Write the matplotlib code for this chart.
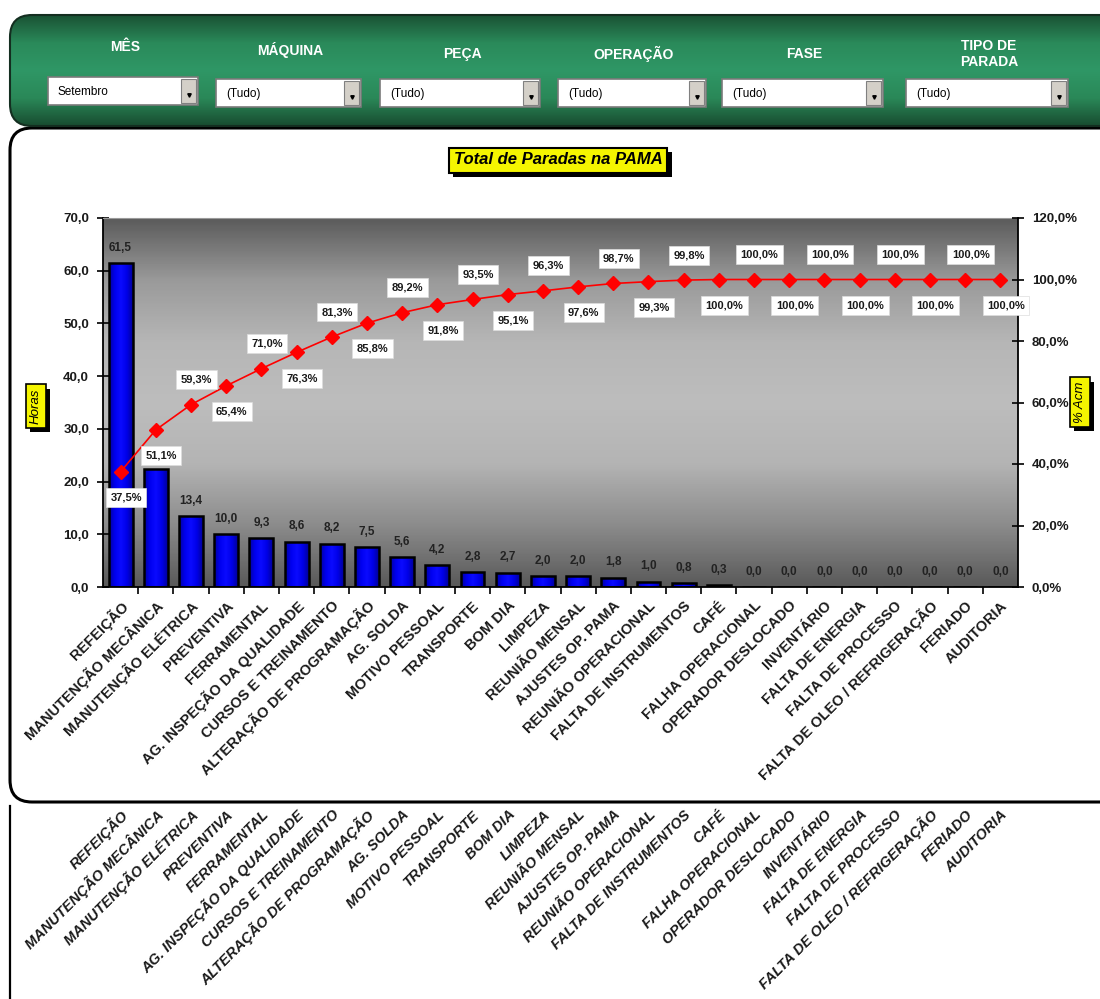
import numpy as np
import matplotlib
matplotlib.use('Agg')
import matplotlib.pyplot as plt
import matplotlib.ticker as mticker
import matplotlib.patheffects as pe
from matplotlib.patches import FancyBboxPatch, Rectangle
from matplotlib.colors import LinearSegmentedColormap
from matplotlib.transforms import ScaledTranslation

plt.rcParams['font.family'] = ['Liberation Sans', 'DejaVu Sans']

W, H = 1100, 999

# dados do pareto
categorias = ['REFEIÇÃO', 'MANUTENÇÃO MECÂNICA', 'MANUTENÇÃO ELÉTRICA', 'PREVENTIVA',
              'FERRAMENTAL', 'AG. INSPEÇÃO DA QUALIDADE', 'CURSOS E TREINAMENTO',
              'ALTERAÇÃO DE PROGRAMAÇÃO', 'AG. SOLDA', 'MOTIVO PESSOAL', 'TRANSPORTE',
              'BOM DIA', 'LIMPEZA', 'REUNIÃO MENSAL', 'AJUSTES OP. PAMA',
              'REUNIÃO OPERACIONAL', 'FALTA DE INSTRUMENTOS', 'CAFÉ', 'FALHA OPERACIONAL',
              'OPERADOR DESLOCADO', 'INVENTÁRIO', 'FALTA DE ENERGIA', 'FALTA DE PROCESSO',
              'FALTA DE OLEO / REFRIGERAÇÃO', 'FERIADO', 'AUDITORIA']
horas = [61.5, 22.3, 13.4, 10.0, 9.3, 8.6, 8.2, 7.5, 5.6, 4.2, 2.8, 2.7, 2.0,
         2.0, 1.8, 1.0, 0.8, 0.3, 0.0, 0.0, 0.0, 0.0, 0.0, 0.0, 0.0, 0.0]
pct_acum = [37.5, 51.1, 59.3, 65.4, 71.0, 76.3, 81.3, 85.8, 89.2, 91.8, 93.5, 95.1, 96.3,
            97.6, 98.7, 99.3, 99.8, 100.0, 100.0, 100.0, 100.0, 100.0, 100.0, 100.0,
            100.0, 100.0]

# filtros do cabecalho
filtros = ['MÊS', 'MÁQUINA', 'PEÇA', 'OPERAÇÃO', 'FASE', 'TIPO DE\nPARADA']
filtro_valores = ['Setembro', '(Tudo)', '(Tudo)', '(Tudo)', '(Tudo)', '(Tudo)']
filtro_pos = [(48, 198, 47), (216, 361, 50), (380, 540, 54), (558, 706, 54),
              (722, 883, 54), (906, 1068, 54)]


def virgula(v, casas=1):
    return f'{v:.{casas}f}'.replace('.', ',')


def caixa(x0, y0, x1, y1):
    # pixels -> fracao da figura
    return [x0 / W, 1 - y1 / H, (x1 - x0) / W, (y1 - y0) / H]


sombra = [pe.SimplePatchShadow(offset=(3, -3), shadow_rgbFace='black', alpha=1.0), pe.Normal()]

fig = plt.figure(figsize=(W / 100, H / 100), dpi=100)
fig.patch.set_facecolor('white')

bg = fig.add_axes([0, 0, 1, 1])
bg.axis('off')

# painel verde
cab = FancyBboxPatch((10, 15), 1120, 111, boxstyle='round,pad=0,rounding_size=22',
                     fc='none', ec='#142e20', lw=1.5, zorder=2)
bg.add_patch(cab)
verde = LinearSegmentedColormap.from_list('verde', ['#1a5234', '#2a8a5a', '#2f9766', '#2a8858', '#184c30'])
g = bg.imshow(np.linspace(0, 1, 200)[:, None], cmap=verde, extent=(10, 1130, 126, 15),
              aspect='auto', zorder=1)
g.set_clip_path(cab)

# painel branco do grafico
painel = FancyBboxPatch((10, 128), 1120, 674, boxstyle='round,pad=0,rounding_size=22',
                        fc='white', ec='black', lw=2.2, zorder=1)
bg.add_patch(painel)
bg.plot([10, 10], [806, 1005], color='black', lw=1.6, zorder=1)

for nome, val, (x0, x1, yl) in zip(filtros, filtro_valores, filtro_pos):
    bg.text((x0 + x1) / 2 + 2, yl, nome, color='white', weight='bold', fontsize=10,
            ha='center', va='center', linespacing=1.1, zorder=3)
    y0, y1 = (77, 105) if val == 'Setembro' else (79, 107)
    bg.add_patch(Rectangle((x0, y0), x1 - x0, y1 - y0, fc='white', ec='#7a7a7a', lw=1.2, zorder=3))
    bg.add_patch(Rectangle((x1 - 17, y0 + 2), 15, y1 - y0 - 4, fc='#d4d0c8', ec='#808080',
                           lw=0.8, zorder=4))
    bg.plot(x1 - 9.5, y1 - 10, marker='v', ms=2.5, color='black', zorder=5)
    bg.text(x0 + 10, (y0 + y1) / 2 + 1, val, fontsize=8.5, va='center', color='black', zorder=4)

# titulo com sombra
titulo = bg.text(558, 160, 'Total de Paradas na PAMA', style='italic', weight='bold',
                 fontsize=12, ha='center', va='center', color='black', zorder=4,
                 bbox=dict(boxstyle='square,pad=0.3', fc='#f5f500', ec='black', lw=1.5))
titulo.get_bbox_patch().set_path_effects(sombra)

# rotulos dos eixos
for xt, yt, txt in [(36, 406, 'Horas'), (1080, 402, '% Acm')]:
    t = bg.text(xt, yt, txt, rotation=90, style='italic', fontsize=9.5, color='black',
                ha='center', va='center', zorder=4,
                bbox=dict(boxstyle='square,pad=0.3', fc='#f5f500', ec='black', lw=1.2))
    t.get_bbox_patch().set_path_effects(sombra)

bg.set_xlim(0, W)
bg.set_ylim(H, 0)

# area do grafico
ax = fig.add_axes(caixa(103, 218, 1018, 587))
ax2 = ax.twinx()
x = np.arange(len(categorias))

cinza = LinearSegmentedColormap.from_list('cinza', ['#5c5c5c', '#9a9a9a', '#b6b6b6', '#bdbdbd',
                                                   '#b4b4b4', '#8c8c8c', '#5a5a5a'])
ax.imshow(np.linspace(0, 1, 200)[:, None], cmap=cinza, extent=(-0.5, 25.5, 0, 70),
          aspect='auto', zorder=0)
ax.patch.set_visible(False)

# barras com degrade horizontal azul
azul = LinearSegmentedColormap.from_list('azul', ['#0000a0', '#0000f0', '#0a0aff', '#0000e8', '#00009a'])
barras = ax.bar(x, horas, width=0.68, facecolor='none', edgecolor='black', linewidth=1.8,
                zorder=2.5)
for b in barras:
    if b.get_height() > 0:
        im = ax.imshow(np.linspace(0, 1, 50)[None, :], cmap=azul, aspect='auto', zorder=2,
                       extent=(b.get_x(), b.get_x() + b.get_width(), 0, b.get_height()))
        im.set_clip_path(b)
for i, h in enumerate(horas):
    ax.annotate(virgula(h), (i, h), xytext=(0, 11), textcoords='offset points',
                ha='center', va='center', fontsize=8.5, weight='bold', color='#222222', zorder=3)

ax2.plot(x, pct_acum, color='#ff0000', lw=1.2, marker='D', ms=7.5,
         mfc='#ff0000', mec='#ff0000', zorder=3)
for i, p in enumerate(pct_acum):
    acima = i >= 2 and i % 2 == 0
    dy = 18 if acima else -18.5
    ax2.annotate(virgula(p) + '%', (i, p), xytext=(4, dy), textcoords='offset points',
                 ha='center', va='center', fontsize=8, weight='bold', color='#1a1a1a',
                 bbox=dict(boxstyle='square,pad=0.4', fc='white', ec='#dddddd', lw=0.5),
                 zorder=4)

ax.set_xlim(-0.5, 25.5)
ax.set_ylim(0, 70)
ax2.set_ylim(0, 120)
ax.set_yticks(np.arange(0, 71, 10))
ax2.set_yticks(np.arange(0, 121, 20))
ax.yaxis.set_major_formatter(mticker.FuncFormatter(lambda v, _: virgula(v)))
ax2.yaxis.set_major_formatter(mticker.FuncFormatter(lambda v, _: virgula(v) + '%'))
for a in (ax, ax2):
    for lb in a.get_yticklabels():
        lb.set_fontweight('bold')
        lb.set_fontsize(9.5)
        lb.set_color('#1a1a1a')
ax.tick_params(axis='y', direction='inout', length=8, width=1.2, pad=6)
ax2.tick_params(axis='y', direction='inout', length=8, width=1.2, pad=6)

ax.set_xticks(x)
ax.set_xticklabels(categorias, rotation=45, ha='right', va='center', rotation_mode='anchor',
                   fontsize=10.5, weight='bold', color='#1a1a1a')
ax.set_xticks(np.arange(0.5, 25, 1), minor=True)
ax.tick_params(axis='x', which='major', length=0, pad=12)
ax.tick_params(axis='x', which='minor', direction='out', length=5, width=1.2)
desloc = ScaledTranslation(0.05, 0, fig.dpi_scale_trans)
for lb in ax.get_xticklabels():
    lb.set_transform(lb.get_transform() + desloc)

for lado in ('left', 'bottom'):
    ax.spines[lado].set_linewidth(1.3)
ax.spines['right'].set_visible(False)
ax.spines['top'].set_color('#9a9a9a')
for lado in ('left', 'top', 'bottom'):
    ax2.spines[lado].set_visible(False)
ax2.spines['right'].set_linewidth(1.3)

# copia dos rotulos abaixo do painel
ax3 = fig.add_axes(caixa(103, 795, 1018, 796))
ax3.set_xlim(-0.5, 25.5)
ax3.patch.set_visible(False)
for s in ax3.spines.values():
    s.set_visible(False)
ax3.set_yticks([])
ax3.set_xticks(x)
ax3.set_xticklabels(categorias, rotation=45, ha='right', va='center', rotation_mode='anchor',
                    fontsize=10.5, weight='bold', style='italic', color='#1a1a1a')
ax3.tick_params(axis='x', length=0, pad=12)
for lb in ax3.get_xticklabels():
    lb.set_transform(lb.get_transform() + desloc)

fig.savefig('out.png', dpi=100, facecolor='white')
